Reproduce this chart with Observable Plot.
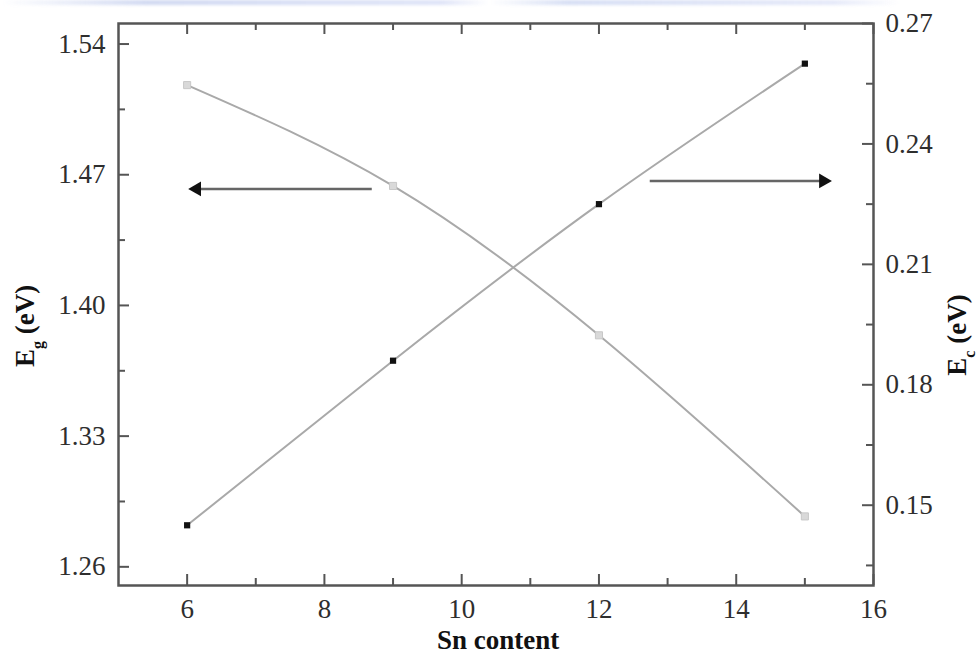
<!DOCTYPE html>
<html><head><meta charset="utf-8">
<script src="https://cdn.jsdelivr.net/npm/d3@7"></script>
<script src="https://cdn.jsdelivr.net/npm/@observablehq/plot@0.6"></script>
<style>
body{margin:0;background:#fff;}
#chart{position:relative;width:979px;height:655px;overflow:hidden;}
#band{position:absolute;left:0;top:0;width:979px;height:5px;
background:linear-gradient(90deg,rgba(255,255,255,0) 0%,rgba(170,185,230,0.55) 15%,rgba(190,200,240,0.5) 45%,rgba(255,255,255,0.3) 50%,rgba(180,195,235,0.55) 58%,rgba(190,200,240,0.4) 85%,rgba(255,255,255,0) 92%);filter:blur(1.5px);}
</style>
</head><body><div id="chart"><div id="band"></div></div>
<script>
// Data
const snContent = [6, 9, 12, 15];
const egValues = [1.518, 1.464, 1.384, 1.287];   // left axis, Eg (eV)
const ecValues = [0.145, 0.186, 0.225, 0.260];   // right axis, Ec (eV)
const xTicks = [6, 8, 10, 12, 14, 16];
const xMinor = [7, 9, 11, 13, 15];
const egTicks = [1.26, 1.33, 1.40, 1.47, 1.54];
const egMinor = [1.295, 1.365, 1.435, 1.505];
const ecTicks = [0.15, 0.18, 0.21, 0.24, 0.27];
const ecMinor = [0.135, 0.165, 0.195, 0.225, 0.255];
const arrowNotes = [
  {from: 8.69, to: 6.14, level: 1.4624, dir: "left"},
  {from: 12.74, to: 15.27, level: 1.4667, dir: "right"}
];

const W = 979, H = 655, mL = 118, mR = 106, mT = 23, mB = 70;
const pw = W - mL - mR, ph = H - mT - mB;
const egDomain = [1.25, 1.551], ecDomain = [0.13, 0.27];
const ecToEg = d3.scaleLinear().domain(ecDomain).range(egDomain);

const rows = snContent.map((x, i) => ({x, eg: egValues[i], ec: ecToEg(ecValues[i])}));
const axisColor = "#555";

const plot = Plot.plot({
  width: W, height: H,
  marginLeft: mL, marginRight: mR, marginTop: mT, marginBottom: mB,
  style: {fontFamily: "Liberation Serif", fontSize: "27px", color: "#2e2e2e", background: "transparent"},
  x: {domain: [5, 16]},
  y: {domain: egDomain},
  marks: [
    Plot.line(rows, {x: "x", y: "eg", curve: "natural", stroke: "#a9a9a9", strokeWidth: 2}),
    Plot.line(rows, {x: "x", y: "ec", curve: "natural", stroke: "#a9a9a9", strokeWidth: 2}),
    Plot.dot(rows, {x: "x", y: "eg", symbol: "square", r: 4, fill: "#d9d9d9", stroke: "#c8c8c8", strokeWidth: 1}),
    Plot.dot(rows, {x: "x", y: "ec", symbol: "square", r: 3.5, fill: "#111"}),
    Plot.link(arrowNotes, {x1: "from", x2: "to", y1: "level", y2: "level", stroke: "#666", strokeWidth: 2.5}),
    Plot.dot(arrowNotes, {x: "to", y: "level", symbol: "triangle", rotate: d => d.dir === "left" ? -90 : 90, r: 5.5, fill: "#111"}),
    // inward ticks
    Plot.tickY(egTicks, {insetRight: pw - 11, stroke: axisColor, strokeWidth: 2}),
    Plot.tickY(egMinor, {insetRight: pw - 7, stroke: axisColor, strokeWidth: 2}),
    Plot.tickY(ecTicks.map(ecToEg), {insetLeft: pw - 11, stroke: axisColor, strokeWidth: 2}),
    Plot.tickY(ecMinor.map(ecToEg), {insetLeft: pw - 7, stroke: axisColor, strokeWidth: 2}),
    Plot.tickX(xTicks, {insetTop: ph - 11, stroke: axisColor, strokeWidth: 2}),
    Plot.tickX(xMinor, {insetTop: ph - 7, stroke: axisColor, strokeWidth: 2}),
    Plot.tickX(xTicks, {insetBottom: ph - 11, stroke: axisColor, strokeWidth: 2}),
    Plot.tickX(xMinor, {insetBottom: ph - 7, stroke: axisColor, strokeWidth: 2}),
    Plot.frame({stroke: axisColor, strokeWidth: 2.5}),
    Plot.axisX(xTicks, {anchor: "bottom", tickSize: 0, tickPadding: 13, label: null, tickFormat: d => String(d)}),
    Plot.axisY(egTicks, {anchor: "left", tickSize: 0, tickPadding: 13, label: null, tickFormat: d3.format(".2f")}),
    Plot.axisY(ecTicks.map(ecToEg), {anchor: "right", tickSize: 0, tickPadding: 12, label: null, tickFormat: d => ecToEg.invert(d).toFixed(2)})
  ]
});
document.getElementById("chart").appendChild(plot);

// Axis titles with subscripts
const svg = d3.select(plot);
function addTitle(x, y, rot, main, sub, rest) {
  const t = svg.append("text")
    .attr("transform", `translate(${x},${y}) rotate(${rot})`)
    .attr("text-anchor", "middle")
    .attr("font-family", "Liberation Serif")
    .attr("font-weight", "bold")
    .attr("font-size", 27)
    .attr("fill", "#111");
  t.append("tspan").text(main);
  if (sub) {
    t.append("tspan").attr("dy", 9).attr("font-size", 16).text(sub);
    t.append("tspan").attr("dy", -9).text(rest);
  }
  return t;
}
addTitle(34, 326, -90, "E", "g", " (eV)");
addTitle(966, 335, -90, "E", "c", " (eV)");
addTitle(498, 649, 0, "Sn content");
</script>
</body></html>
